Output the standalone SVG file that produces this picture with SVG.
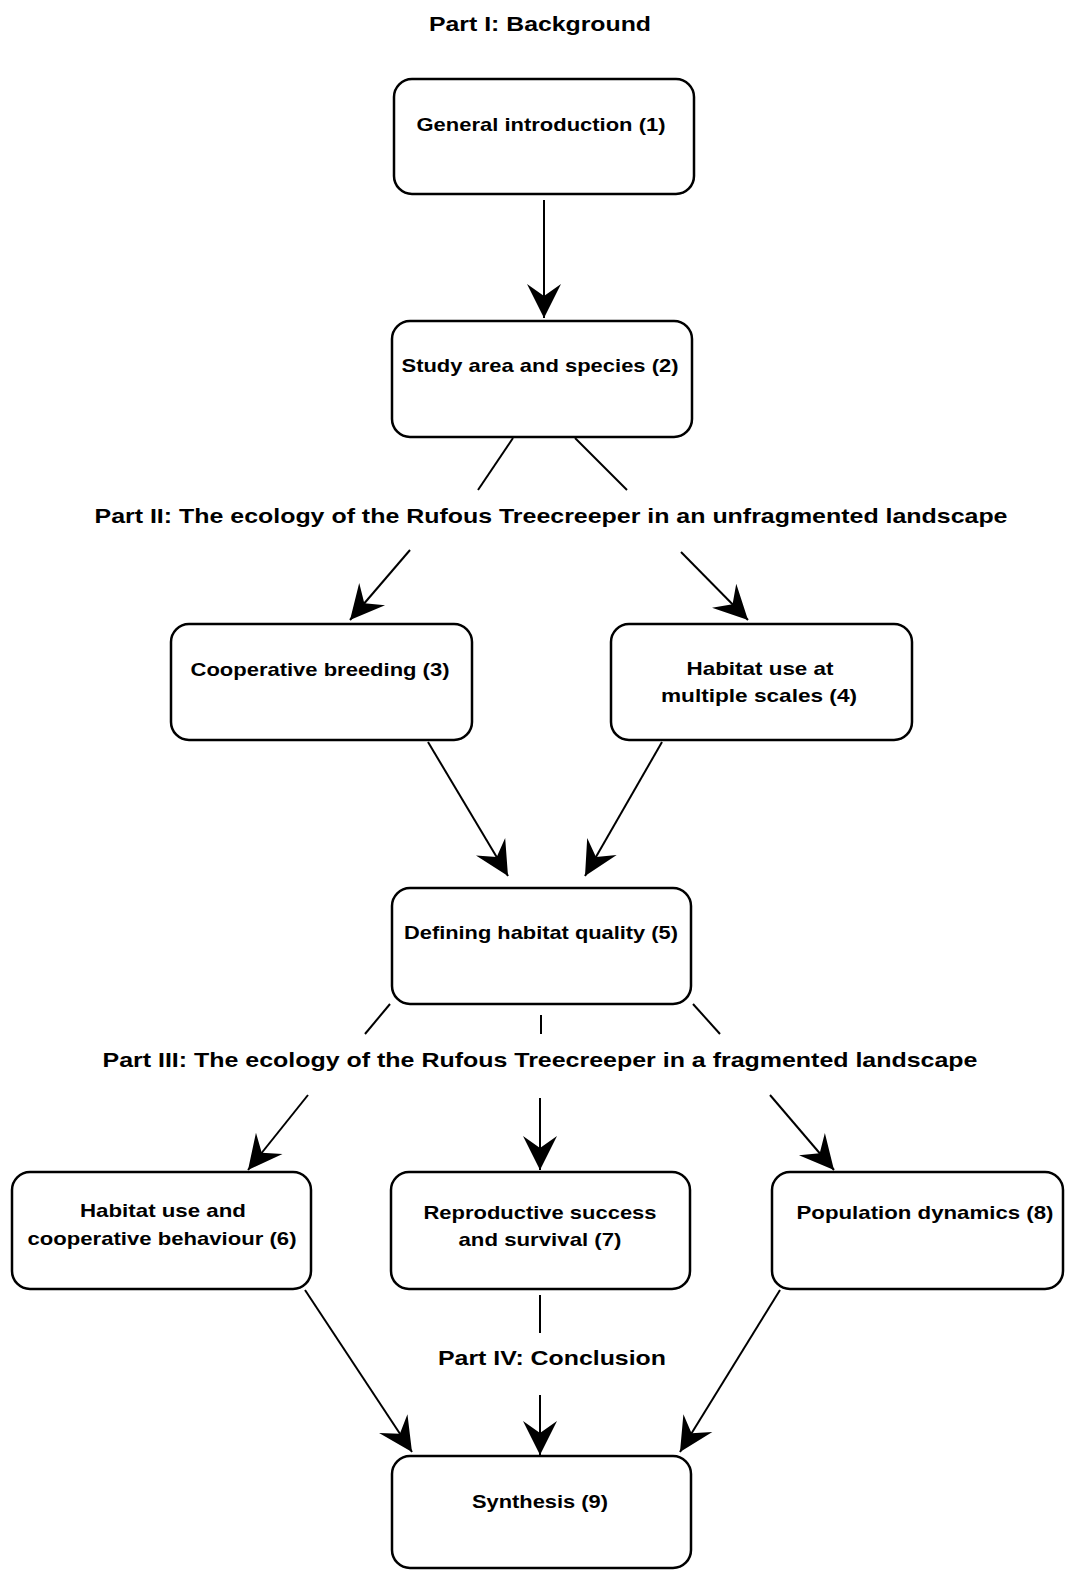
<svg xmlns="http://www.w3.org/2000/svg" width="1065" height="1570" viewBox="0 0 1065 1570">
<style>
.box{fill:#fff;stroke:#000;stroke-width:2.5}
.t{font-family:"Liberation Sans",Arial,sans-serif;font-weight:bold;font-size:19px;fill:#000;text-anchor:middle}
.h{font-family:"Liberation Sans",Arial,sans-serif;font-weight:bold;font-size:21px;fill:#000;text-anchor:middle}
.c{stroke:#000;stroke-width:2;fill:none}
</style>
<defs>
<marker id="ah" markerUnits="userSpaceOnUse" markerWidth="40" markerHeight="40" viewBox="-36 -20 40 40" refX="0" refY="0" orient="auto">
<path d="M0,0 L-34,-17 L-22,0 L-34,17 Z" fill="#000"/>
</marker>
</defs>
<rect width="1065" height="1570" fill="#fff"/>
<g id="headings">
<text class="h" x="540" y="31" textLength="222" lengthAdjust="spacingAndGlyphs">Part I: Background</text>
<text class="h" x="551" y="523" textLength="913" lengthAdjust="spacingAndGlyphs">Part II: The ecology of the Rufous Treecreeper in an unfragmented landscape</text>
<text class="h" x="540" y="1067" textLength="875" lengthAdjust="spacingAndGlyphs">Part III: The ecology of the Rufous Treecreeper in a fragmented landscape</text>
<text class="h" x="552" y="1365" textLength="228" lengthAdjust="spacingAndGlyphs">Part IV: Conclusion</text>
</g>
<g id="connectors">
<line class="c" x1="544" y1="200" x2="544" y2="318" marker-end="url(#ah)"/>
<line class="c" x1="513" y1="438" x2="478" y2="490"/>
<line class="c" x1="575" y1="438" x2="627" y2="490"/>
<line class="c" x1="410" y1="550" x2="350" y2="620" marker-end="url(#ah)"/>
<line class="c" x1="681" y1="552" x2="748" y2="620" marker-end="url(#ah)"/>
<line class="c" x1="428" y1="742" x2="508" y2="876" marker-end="url(#ah)"/>
<line class="c" x1="662" y1="742" x2="585" y2="876" marker-end="url(#ah)"/>
<line class="c" x1="390" y1="1004" x2="365" y2="1034"/>
<line class="c" x1="541" y1="1015" x2="541" y2="1034"/>
<line class="c" x1="693" y1="1004" x2="720" y2="1034"/>
<line class="c" x1="308" y1="1095" x2="248" y2="1170" marker-end="url(#ah)"/>
<line class="c" x1="540" y1="1098" x2="540" y2="1170" marker-end="url(#ah)"/>
<line class="c" x1="770" y1="1095" x2="834" y2="1170" marker-end="url(#ah)"/>
<line class="c" x1="305" y1="1290" x2="412" y2="1452" marker-end="url(#ah)"/>
<line class="c" x1="540" y1="1295" x2="540" y2="1333"/>
<line class="c" x1="540" y1="1395" x2="540" y2="1455" marker-end="url(#ah)"/>
<line class="c" x1="780" y1="1290" x2="680" y2="1452" marker-end="url(#ah)"/>
</g>
<g id="n1"><rect class="box" x="394" y="79" width="300" height="115" rx="18"/><text class="t" x="541" y="131" textLength="249" lengthAdjust="spacingAndGlyphs">General introduction (1)</text></g>
<g id="n2"><rect class="box" x="392" y="321" width="300" height="116" rx="18"/><text class="t" x="540" y="372" textLength="277" lengthAdjust="spacingAndGlyphs">Study area and species (2)</text></g>
<g id="n3"><rect class="box" x="171" y="624" width="301" height="116" rx="18"/><text class="t" x="320" y="676" textLength="259" lengthAdjust="spacingAndGlyphs">Cooperative breeding (3)</text></g>
<g id="n4"><rect class="box" x="611" y="624" width="301" height="116" rx="18"/><text class="t" x="760" y="675" textLength="147" lengthAdjust="spacingAndGlyphs">Habitat use at</text><text class="t" x="759" y="702" textLength="196" lengthAdjust="spacingAndGlyphs">multiple scales (4)</text></g>
<g id="n5"><rect class="box" x="392" y="888" width="299" height="116" rx="18"/><text class="t" x="541" y="939" textLength="274" lengthAdjust="spacingAndGlyphs">Defining habitat quality (5)</text></g>
<g id="n6"><rect class="box" x="12" y="1172" width="299" height="117" rx="18"/><text class="t" x="163" y="1217" textLength="166" lengthAdjust="spacingAndGlyphs">Habitat use and</text><text class="t" x="162" y="1245" textLength="269" lengthAdjust="spacingAndGlyphs">cooperative behaviour (6)</text></g>
<g id="n7"><rect class="box" x="391" y="1172" width="299" height="117" rx="18"/><text class="t" x="540" y="1219" textLength="233" lengthAdjust="spacingAndGlyphs">Reproductive success</text><text class="t" x="540" y="1246" textLength="163" lengthAdjust="spacingAndGlyphs">and survival (7)</text></g>
<g id="n8"><rect class="box" x="772" y="1172" width="291" height="117" rx="18"/><text class="t" x="925" y="1219" textLength="257" lengthAdjust="spacingAndGlyphs">Population dynamics (8)</text></g>
<g id="n9"><rect class="box" x="392" y="1456" width="299" height="112" rx="18"/><text class="t" x="540" y="1508" textLength="136" lengthAdjust="spacingAndGlyphs">Synthesis (9)</text></g>
</svg>
